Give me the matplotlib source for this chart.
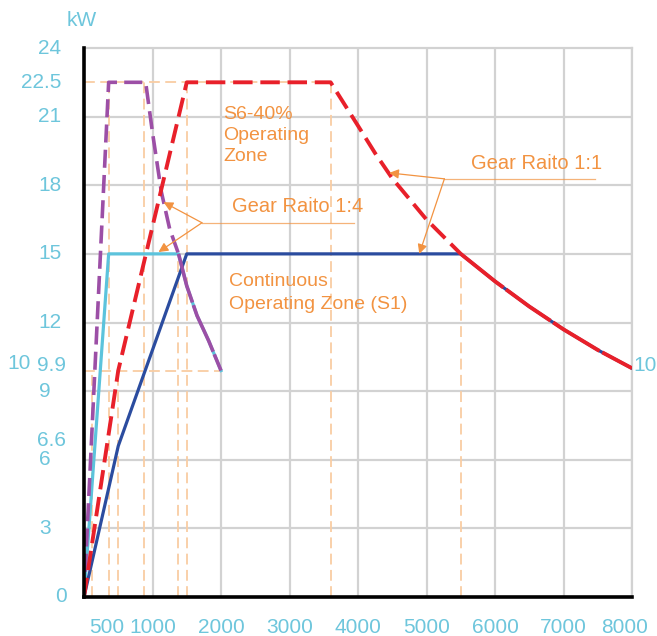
import matplotlib.pyplot as plt
from matplotlib.transforms import blended_transform_factory

# power curves (rpm, kW)
s6_11_rpm = [0, 500, 1500, 3600, 3800, 4000, 4250, 4500, 5000, 5500, 6000, 6500, 7000, 7500, 8000]
s6_11_kw = [0, 9.9, 22.5, 22.5, 21.55, 20.6, 19.4, 18.3, 16.5, 15.0, 13.8, 12.7, 11.7, 10.8, 10.0]

s1_11_rpm = [0, 500, 1500, 5500, 6000, 6500, 7000, 7500, 8000]
s1_11_kw = [0, 6.6, 15, 15, 13.8, 12.7, 11.7, 10.8, 10.0]

s6_14_rpm = [0, 360, 900, 1000, 1130, 1250, 1380, 1500, 1650, 1820, 2000]
s6_14_kw = [0, 22.5, 22.5, 20.3, 17.7, 16.1, 15.0, 13.6, 12.3, 11.2, 9.9]

s1_14_rpm = [0, 360, 1380, 1500, 1650, 1820, 2000]
s1_14_kw = [0, 15, 15, 13.6, 12.3, 11.2, 9.9]

# orange helper lines: (rpm, top kW)
guide_v = [(120, 9.9), (360, 22.5), (500, 9.9), (880, 22.5), (1370, 15),
           (1500, 22.5), (3600, 22.5), (5500, 15)]
guide_h = [(22.5, 3600), (9.9, 2000)]

xtick_vals = [1000, 2000, 3000, 4000, 5000, 6000, 7000, 8000]
xtick_text = ['1000', '2000', '3000', '4000', '5000', '6000', '7000', '8000']
ytick_text = ['0', '3', '6', '6.6', '9', '9.9', '10', '12', '15', '18', '21', '22.5', '24']
ytick_pos = [0, 3, 6, 6.85, 9, 10.1, 10.2, 12, 15, 18, 21, 22.5, 24]
ytick_xpx = [61, 45, 45, 51, 45, 52, 19, 50, 50, 50, 50, 41, 50]

RED = '#e8202a'
BLUE = '#2b4c9f'
PURPLE = '#9c4fa6'
CYAN = '#5cc3dc'
PEACH = '#f9cda3'
ORANGE = '#f29341'
LABEL = '#6ec6dc'
GRID = '#d2d2d2'

plt.rcParams['font.family'] = ['Liberation Sans', 'DejaVu Sans']

fig = plt.figure(figsize=(6.57, 6.36), dpi=100)
ax = fig.add_axes([84 / 657, 39 / 636, 548 / 657, 549 / 636])
ax.set_xlim(0, 8000)
ax.set_ylim(0, 24)

ax.set_xticks(xtick_vals)
ax.set_yticks([3, 6, 9, 12, 15, 18, 21])
ax.set_xticklabels([])
ax.set_yticklabels([])
ax.tick_params(length=0)
ax.grid(color=GRID, lw=1.6)
ax.set_axisbelow(True)
for s in ['top', 'right']:
    ax.spines[s].set_color(GRID)
    ax.spines[s].set_linewidth(1.6)
for s in ['left', 'bottom']:
    ax.spines[s].set_color('black')
    ax.spines[s].set_linewidth(2.6)
    ax.spines[s].set_zorder(10)

# helper dashed lines
for x, top in guide_v:
    ax.plot([x, x], [0, top], color=PEACH, lw=1.3, dashes=(6, 3), zorder=1.5)
for y, right in guide_h:
    ax.plot([0, right], [y, y], color=PEACH, lw=1.3, dashes=(6, 3), zorder=1.5)

# continuous curves
ax.plot(s1_14_rpm, s1_14_kw, color=CYAN, lw=2.3, zorder=3)
ax.plot(s1_11_rpm, s1_11_kw, color=BLUE, lw=2.3, zorder=3)

# S6 curves, dashed; the part running over the S1 curve is almost solid
i14 = s6_14_rpm.index(1380)
ax.plot(s6_14_rpm[:i14 + 1], s6_14_kw[:i14 + 1], color=PURPLE, lw=2.6, dashes=(5, 2), zorder=4)
ax.plot(s6_14_rpm[i14:], s6_14_kw[i14:], color=PURPLE, lw=2.6, dashes=(14, 0.8), zorder=4)
i11 = s6_11_rpm.index(5500)
ax.plot(s6_11_rpm[:i11 + 1], s6_11_kw[:i11 + 1], color=RED, lw=2.8, dashes=(5, 2), zorder=4)
ax.plot(s6_11_rpm[i11:], s6_11_kw[i11:], color=RED, lw=2.8, dashes=(14, 0.8), zorder=4)

# annotations
ax.text(2031, 20.17, 'S6-40%\nOperating\nZone', color=ORANGE, fontsize=14,
        ha='left', va='center', linespacing=1.3)
ax.text(2113, 13.28, 'Continuous\nOperating Zone (S1)', color=ORANGE, fontsize=14,
        ha='left', va='center', linespacing=1.42)
ax.text(2162, 17.05, 'Gear Raito 1:4', color=ORANGE, fontsize=14.5, ha='left', va='center')
ax.text(5652, 18.94, 'Gear Raito 1:1', color=ORANGE, fontsize=14.5, ha='left', va='center')

arrow = dict(arrowstyle='-|>', color=ORANGE, lw=0.9, mutation_scale=14, shrinkA=0, shrinkB=0)
ax.plot([1722, 3938], [16.36, 16.36], color=ORANGE, lw=0.9, alpha=0.7, zorder=5)
ax.annotate('', xy=(1161, 17.26), xytext=(1722, 16.36), arrowprops=arrow, zorder=5)
ax.annotate('', xy=(1088, 15.08), xytext=(1722, 16.36), arrowprops=arrow, zorder=5)
ax.plot([5261, 7457], [18.28, 18.28], color=ORANGE, lw=0.9, alpha=0.7, zorder=5)
ax.annotate('', xy=(4455, 18.54), xytext=(5261, 18.28), arrowprops=arrow, zorder=5)
ax.annotate('', xy=(4895, 15.0), xytext=(5261, 18.28), arrowprops=arrow, zorder=5)

# tick labels as text
ytr = blended_transform_factory(ax.transAxes, ax.transData)
for t, y, px in zip(ytick_text, ytick_pos, ytick_xpx):
    ax.text((px - 84) / 548, y, t, transform=ytr, color=LABEL, fontsize=15,
            ha='center', va='center', clip_on=False)
ax.text(-2 / 548, 25.2, 'kW', transform=ytr, color=LABEL, fontsize=15,
        ha='center', va='center', clip_on=False)
ax.text(8020, 10.1, '10', color=LABEL, fontsize=15, ha='left', va='center', clip_on=False)

xtr = blended_transform_factory(ax.transData, ax.transAxes)
for v, t in zip(xtick_vals, xtick_text):
    xv = 7890 if v == 8000 else v
    ax.text(xv, -0.055, t, transform=xtr, color=LABEL, fontsize=15,
            ha='center', va='center', clip_on=False)
ax.text(337, -0.055, '500', transform=xtr, color=LABEL, fontsize=15,
        ha='center', va='center', clip_on=False)

fig.savefig('out.png', dpi=100)
